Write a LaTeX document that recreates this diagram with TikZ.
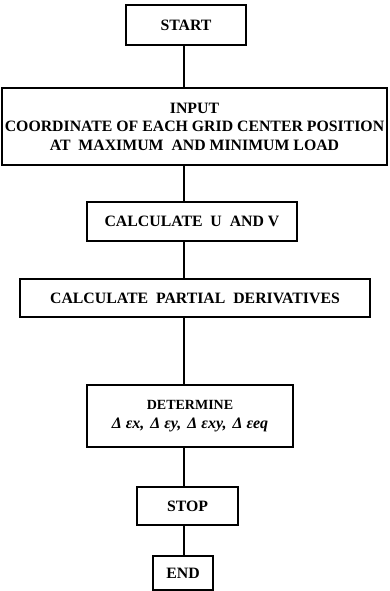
\documentclass[tikz,border=0pt]{standalone}
\usepackage{fontspec}
\setmainfont{Liberation Serif}
\begin{document}
\begin{tikzpicture}[x=1pt,y=-1pt,
  box/.style={draw=black, line width=1.5pt, inner sep=0pt, align=center,
    font=\bfseries\fontsize{15.8}{18.5}\selectfont, text=black},
  link/.style={draw=black, line width=1.5pt}]
\useasboundingbox (0,0) rectangle (389,591);
\node[box, minimum width=120pt, minimum height=40pt] (start) at (186,25) {START};
\node[box, minimum width=385pt, minimum height=77pt] (input) at (194.5,126.5)
  {INPUT\\COORDINATE OF EACH GRID CENTER POSITION\\AT\ \ MAXIMUM\ \ AND MINIMUM LOAD};
\node[box, minimum width=210pt, minimum height=39pt] (calcuv) at (192,221.5)
  {CALCULATE\ \ U\ \ AND V};
\node[box, minimum width=350pt, minimum height=38pt] (partial) at (195,298)
  {CALCULATE\ \ PARTIAL\ \ DERIVATIVES};
\node[box, minimum width=206pt, minimum height=62pt, font=\bfseries\fontsize{14}{19}\selectfont] (determine) at (190,416)
  {DETERMINE\\{\fontsize{16}{19}\selectfont\itshape Δ\hspace{4pt}εx,\hspace{6pt}Δ\hspace{4pt}εy,\hspace{6pt}Δ\hspace{4pt}εxy,\hspace{6pt}Δ\hspace{4pt}εeq}};
\node[box, minimum width=101pt, minimum height=38pt] (stop) at (187.5,506) {STOP};
\node[box, minimum width=60pt, minimum height=34pt] (end) at (183,573) {END};
\coordinate (ax) at (184,0);
\draw[link] (start.south -| ax) -- (input.north -| ax);
\draw[link] (input.south -| ax) -- (calcuv.north -| ax);
\draw[link] (calcuv.south -| ax) -- (partial.north -| ax);
\draw[link] (partial.south -| ax) -- (determine.north -| ax);
\draw[link] (determine.south -| ax) -- (stop.north -| ax);
\draw[link] (stop.south -| ax) -- (end.north -| ax);
\end{tikzpicture}
\end{document}
